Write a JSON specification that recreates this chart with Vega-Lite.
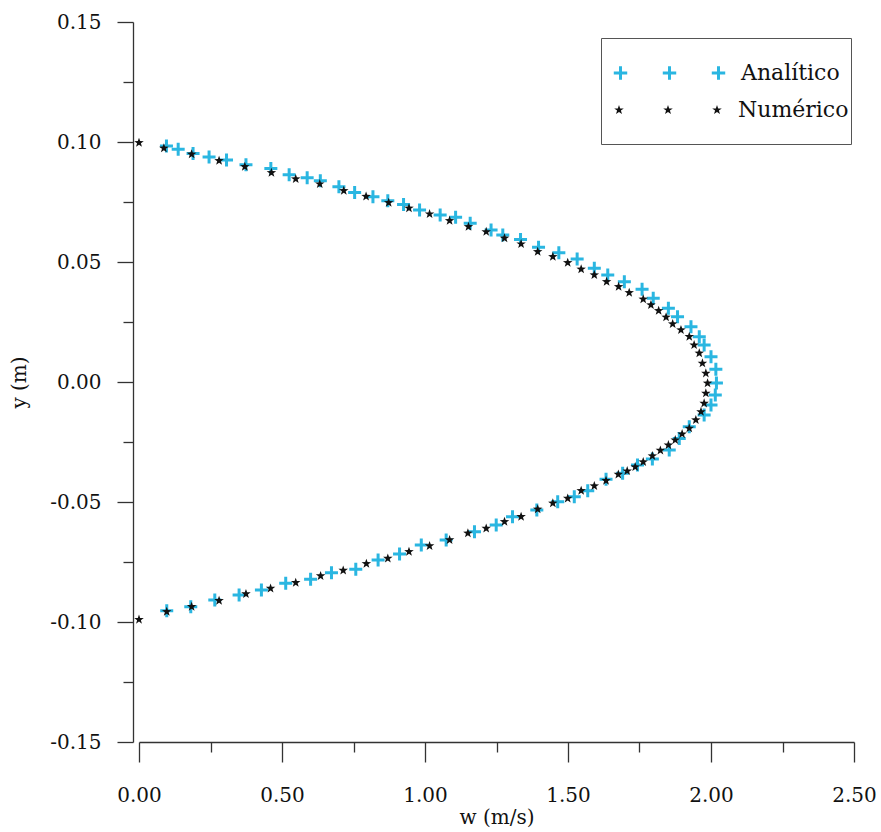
{
  "$schema": "https://vega.github.io/schema/vega-lite/v6.json",
  "width": 715,
  "height": 720,
  "autosize": {"type": "none"},
  "padding": {"left": 139, "top": 22, "right": 27, "bottom": 90},
  "background": "white",
  "config": {
    "font": "DejaVu Serif",
    "view": {"stroke": null},
    "axis": {
      "grid": false,
      "domainColor": "#333333",
      "tickColor": "#333333",
      "domainWidth": 1.3,
      "tickWidth": 1.3,
      "labelColor": "#111111",
      "titleColor": "#111111",
      "labelFont": "DejaVu Serif",
      "titleFont": "DejaVu Serif",
      "labelFontSize": 20,
      "titleFontSize": 20,
      "titleFontWeight": "normal"
    }
  },
  "data": {
    "values": [
      {"serie": "Analítico", "w": 0.096, "y": 0.0983},
      {"serie": "Analítico", "w": 0.137, "y": 0.0970},
      {"serie": "Analítico", "w": 0.189, "y": 0.0952},
      {"serie": "Analítico", "w": 0.245, "y": 0.0938},
      {"serie": "Analítico", "w": 0.306, "y": 0.0925},
      {"serie": "Analítico", "w": 0.374, "y": 0.0905},
      {"serie": "Analítico", "w": 0.461, "y": 0.0890},
      {"serie": "Analítico", "w": 0.525, "y": 0.0864},
      {"serie": "Analítico", "w": 0.588, "y": 0.0851},
      {"serie": "Analítico", "w": 0.634, "y": 0.0839},
      {"serie": "Analítico", "w": 0.699, "y": 0.0814},
      {"serie": "Analítico", "w": 0.754, "y": 0.0790},
      {"serie": "Analítico", "w": 0.818, "y": 0.0772},
      {"serie": "Analítico", "w": 0.870, "y": 0.0755},
      {"serie": "Analítico", "w": 0.925, "y": 0.0740},
      {"serie": "Analítico", "w": 0.981, "y": 0.0717},
      {"serie": "Analítico", "w": 1.053, "y": 0.0696},
      {"serie": "Analítico", "w": 1.107, "y": 0.0686},
      {"serie": "Analítico", "w": 1.158, "y": 0.0661},
      {"serie": "Analítico", "w": 1.231, "y": 0.0633},
      {"serie": "Analítico", "w": 1.272, "y": 0.0613},
      {"serie": "Analítico", "w": 1.334, "y": 0.0594},
      {"serie": "Analítico", "w": 1.397, "y": 0.0561},
      {"serie": "Analítico", "w": 1.468, "y": 0.0539},
      {"serie": "Analítico", "w": 1.532, "y": 0.0513},
      {"serie": "Analítico", "w": 1.592, "y": 0.0474},
      {"serie": "Analítico", "w": 1.639, "y": 0.0446},
      {"serie": "Analítico", "w": 1.697, "y": 0.0418},
      {"serie": "Analítico", "w": 1.759, "y": 0.0386},
      {"serie": "Analítico", "w": 1.798, "y": 0.0349},
      {"serie": "Analítico", "w": 1.851, "y": 0.0307},
      {"serie": "Analítico", "w": 1.883, "y": 0.0272},
      {"serie": "Analítico", "w": 1.930, "y": 0.0230},
      {"serie": "Analítico", "w": 1.959, "y": 0.0189},
      {"serie": "Analítico", "w": 1.976, "y": 0.0154},
      {"serie": "Analítico", "w": 2.000, "y": 0.0105},
      {"serie": "Analítico", "w": 2.017, "y": 0.0053},
      {"serie": "Analítico", "w": 2.019, "y": -0.0004},
      {"serie": "Analítico", "w": 2.015, "y": -0.0054},
      {"serie": "Analítico", "w": 2.000, "y": -0.0096},
      {"serie": "Analítico", "w": 1.976, "y": -0.0138},
      {"serie": "Analítico", "w": 1.924, "y": -0.0186},
      {"serie": "Analítico", "w": 1.889, "y": -0.0235},
      {"serie": "Analítico", "w": 1.854, "y": -0.0283},
      {"serie": "Analítico", "w": 1.795, "y": -0.0321},
      {"serie": "Analítico", "w": 1.743, "y": -0.0346},
      {"serie": "Analítico", "w": 1.691, "y": -0.0380},
      {"serie": "Analítico", "w": 1.633, "y": -0.0405},
      {"serie": "Analítico", "w": 1.569, "y": -0.0453},
      {"serie": "Analítico", "w": 1.522, "y": -0.0478},
      {"serie": "Analítico", "w": 1.464, "y": -0.0499},
      {"serie": "Analítico", "w": 1.391, "y": -0.0533},
      {"serie": "Analítico", "w": 1.306, "y": -0.0561},
      {"serie": "Analítico", "w": 1.249, "y": -0.0596},
      {"serie": "Analítico", "w": 1.173, "y": -0.0624},
      {"serie": "Analítico", "w": 1.074, "y": -0.0658},
      {"serie": "Analítico", "w": 0.987, "y": -0.0679},
      {"serie": "Analítico", "w": 0.911, "y": -0.0717},
      {"serie": "Analítico", "w": 0.836, "y": -0.0742},
      {"serie": "Analítico", "w": 0.758, "y": -0.0780},
      {"serie": "Analítico", "w": 0.673, "y": -0.0795},
      {"serie": "Analítico", "w": 0.600, "y": -0.0822},
      {"serie": "Analítico", "w": 0.513, "y": -0.0839},
      {"serie": "Analítico", "w": 0.428, "y": -0.0867},
      {"serie": "Analítico", "w": 0.350, "y": -0.0888},
      {"serie": "Analítico", "w": 0.265, "y": -0.0908},
      {"serie": "Analítico", "w": 0.181, "y": -0.0936},
      {"serie": "Analítico", "w": 0.097, "y": -0.0953},
      {"serie": "Numérico", "w": 0.000, "y": 0.0997},
      {"serie": "Numérico", "w": 0.087, "y": 0.0974},
      {"serie": "Numérico", "w": 0.184, "y": 0.0949},
      {"serie": "Numérico", "w": 0.280, "y": 0.0922},
      {"serie": "Numérico", "w": 0.370, "y": 0.0897},
      {"serie": "Numérico", "w": 0.463, "y": 0.0872},
      {"serie": "Numérico", "w": 0.548, "y": 0.0846},
      {"serie": "Numérico", "w": 0.632, "y": 0.0825},
      {"serie": "Numérico", "w": 0.716, "y": 0.0797},
      {"serie": "Numérico", "w": 0.794, "y": 0.0773},
      {"serie": "Numérico", "w": 0.873, "y": 0.0747},
      {"serie": "Numérico", "w": 0.944, "y": 0.0724},
      {"serie": "Numérico", "w": 1.016, "y": 0.0700},
      {"serie": "Numérico", "w": 1.086, "y": 0.0672},
      {"serie": "Numérico", "w": 1.152, "y": 0.0647},
      {"serie": "Numérico", "w": 1.214, "y": 0.0626},
      {"serie": "Numérico", "w": 1.278, "y": 0.0599},
      {"serie": "Numérico", "w": 1.336, "y": 0.0575},
      {"serie": "Numérico", "w": 1.394, "y": 0.0543},
      {"serie": "Numérico", "w": 1.447, "y": 0.0522},
      {"serie": "Numérico", "w": 1.499, "y": 0.0497},
      {"serie": "Numérico", "w": 1.546, "y": 0.0470},
      {"serie": "Numérico", "w": 1.592, "y": 0.0446},
      {"serie": "Numérico", "w": 1.635, "y": 0.0418},
      {"serie": "Numérico", "w": 1.677, "y": 0.0397},
      {"serie": "Numérico", "w": 1.714, "y": 0.0372},
      {"serie": "Numérico", "w": 1.763, "y": 0.0345},
      {"serie": "Numérico", "w": 1.790, "y": 0.0321},
      {"serie": "Numérico", "w": 1.817, "y": 0.0297},
      {"serie": "Numérico", "w": 1.843, "y": 0.0270},
      {"serie": "Numérico", "w": 1.866, "y": 0.0242},
      {"serie": "Numérico", "w": 1.895, "y": 0.0217},
      {"serie": "Numérico", "w": 1.924, "y": 0.0189},
      {"serie": "Numérico", "w": 1.941, "y": 0.0154},
      {"serie": "Numérico", "w": 1.959, "y": 0.0120},
      {"serie": "Numérico", "w": 1.970, "y": 0.0078},
      {"serie": "Numérico", "w": 1.982, "y": 0.0036},
      {"serie": "Numérico", "w": 1.988, "y": -0.0005},
      {"serie": "Numérico", "w": 1.982, "y": -0.0047},
      {"serie": "Numérico", "w": 1.976, "y": -0.0089},
      {"serie": "Numérico", "w": 1.965, "y": -0.0124},
      {"serie": "Numérico", "w": 1.947, "y": -0.0158},
      {"serie": "Numérico", "w": 1.924, "y": -0.0193},
      {"serie": "Numérico", "w": 1.899, "y": -0.0217},
      {"serie": "Numérico", "w": 1.875, "y": -0.0242},
      {"serie": "Numérico", "w": 1.851, "y": -0.0263},
      {"serie": "Numérico", "w": 1.823, "y": -0.0285},
      {"serie": "Numérico", "w": 1.795, "y": -0.0308},
      {"serie": "Numérico", "w": 1.763, "y": -0.0333},
      {"serie": "Numérico", "w": 1.735, "y": -0.0354},
      {"serie": "Numérico", "w": 1.707, "y": -0.0371},
      {"serie": "Numérico", "w": 1.676, "y": -0.0385},
      {"serie": "Numérico", "w": 1.633, "y": -0.0411},
      {"serie": "Numérico", "w": 1.592, "y": -0.0433},
      {"serie": "Numérico", "w": 1.546, "y": -0.0453},
      {"serie": "Numérico", "w": 1.499, "y": -0.0485},
      {"serie": "Numérico", "w": 1.447, "y": -0.0505},
      {"serie": "Numérico", "w": 1.394, "y": -0.0530},
      {"serie": "Numérico", "w": 1.336, "y": -0.0561},
      {"serie": "Numérico", "w": 1.278, "y": -0.0582},
      {"serie": "Numérico", "w": 1.214, "y": -0.0610},
      {"serie": "Numérico", "w": 1.150, "y": -0.0630},
      {"serie": "Numérico", "w": 1.086, "y": -0.0658},
      {"serie": "Numérico", "w": 1.016, "y": -0.0683},
      {"serie": "Numérico", "w": 0.944, "y": -0.0707},
      {"serie": "Numérico", "w": 0.870, "y": -0.0735},
      {"serie": "Numérico", "w": 0.795, "y": -0.0757},
      {"serie": "Numérico", "w": 0.714, "y": -0.0785},
      {"serie": "Numérico", "w": 0.635, "y": -0.0808},
      {"serie": "Numérico", "w": 0.548, "y": -0.0836},
      {"serie": "Numérico", "w": 0.460, "y": -0.0860},
      {"serie": "Numérico", "w": 0.374, "y": -0.0883},
      {"serie": "Numérico", "w": 0.280, "y": -0.0911},
      {"serie": "Numérico", "w": 0.184, "y": -0.0936},
      {"serie": "Numérico", "w": 0.097, "y": -0.0957},
      {"serie": "Numérico", "w": 0.000, "y": -0.0990}
    ]
  },
  "layer": [
    {
      "transform": [{"filter": "datum.serie === 'Analítico'"}],
      "mark": {"type": "point", "shape": "M-1,0H1M0,-1V1", "filled": false, "size": 169, "strokeWidth": 3, "opacity": 1},
      "encoding": {
        "x": {
          "field": "w", "type": "quantitative",
          "scale": {"domain": [0, 2.5], "nice": false, "zero": false},
          "axis": {
            "orient": "bottom",
            "values": [0, 0.5, 1, 1.5, 2, 2.5],
            "labelExpr": "format(datum.value, '.2f')",
            "tickSize": 20,
            "labelPadding": 23,
            "labelFlush": false,
            "title": "w (m/s)",
            "titlePadding": 2
          }
        },
        "y": {
          "field": "y", "type": "quantitative",
          "scale": {"domain": [-0.15, 0.15], "nice": false, "zero": false},
          "axis": {
            "orient": "left",
            "offset": 6,
            "values": [-0.15, -0.1, -0.05, 0, 0.05, 0.1, 0.15],
            "labelExpr": "replace(format(datum.value, '.2f'), '−', '-')",
            "tickSize": 16,
            "labelPadding": 16,
            "labelFlush": false,
            "title": "y (m)",
            "titlePadding": 20
          }
        },
        "color": {
          "field": "serie", "type": "nominal",
          "scale": {"domain": ["Analítico"], "range": ["#2AB6E1"]},
          "legend": {
            "orient": "none",
            "legendX": 462,
            "legendY": 16,
            "title": " ",
            "titleOrient": "bottom",
            "titleFontSize": 24,
            "titlePadding": 12,
            "padding": 11,
            "clipHeight": 48,
            "symbolSize": 12544,
            "symbolType": "M-0.995,0H-0.755M-0.875,-0.12V0.12M-0.12,0H0.12M0,-0.12V0.12M0.755,0H0.995M0.875,-0.12V0.12",
            "symbolStrokeWidth": 3,
            "labelOffset": 14,
            "labelFont": "DejaVu Serif",
            "labelFontSize": 22,
            "labelColor": "#111111",
            "labelLimit": 300,
            "strokeColor": "#555555"
          }
        }
      }
    },
    {
      "transform": [{"filter": "datum.serie === 'Numérico'"}],
      "mark": {"type": "point", "shape": "M0,-1L0.235,-0.324L0.951,-0.309L0.38,0.124L0.588,0.809L0,0.4L-0.588,0.809L-0.38,0.124L-0.951,-0.309L-0.235,-0.324Z", "filled": true, "size": 100, "opacity": 1},
      "encoding": {
        "x": {
          "field": "w", "type": "quantitative",
          "axis": {
            "orient": "bottom",
            "values": [0.25, 0.75, 1.25, 1.75, 2.25],
            "tickSize": 10,
            "labels": false,
            "domain": false,
            "title": null
          }
        },
        "y": {
          "field": "y", "type": "quantitative",
          "axis": {
            "orient": "left",
            "offset": 6,
            "values": [-0.125, -0.075, -0.025, 0.025, 0.075, 0.125],
            "tickSize": 10,
            "labels": false,
            "domain": false,
            "title": null
          }
        },
        "fill": {
          "field": "serie", "type": "nominal",
          "scale": {"domain": ["Numérico"], "range": ["#111111"]},
          "legend": {
            "orient": "none",
            "legendX": 473,
            "legendY": 64,
            "title": null,
            "padding": 0,
            "clipHeight": 48,
            "symbolSize": 12544,
            "symbolType": "M-0.875,-0.09L-0.854,-0.029L-0.79,-0.028L-0.841,0.011L-0.822,0.073L-0.875,0.036L-0.928,0.073L-0.909,0.011L-0.96,-0.028L-0.896,-0.029ZM0,-0.09L0.021,-0.029L0.085,-0.028L0.034,0.011L0.053,0.073L0,0.036L-0.053,0.073L-0.034,0.011L-0.085,-0.028L-0.021,-0.029ZM0.875,-0.09L0.896,-0.029L0.96,-0.028L0.909,0.011L0.928,0.073L0.875,0.036L0.822,0.073L0.841,0.011L0.79,-0.028L0.854,-0.029Z",
            "symbolStrokeWidth": 0,
            "labelOffset": 14,
            "labelFont": "DejaVu Serif",
            "labelFontSize": 22,
            "labelColor": "#111111",
            "labelLimit": 300
          }
        }
      }
    }
  ],
  "resolve": {"axis": {"x": "independent", "y": "independent"}}
}
